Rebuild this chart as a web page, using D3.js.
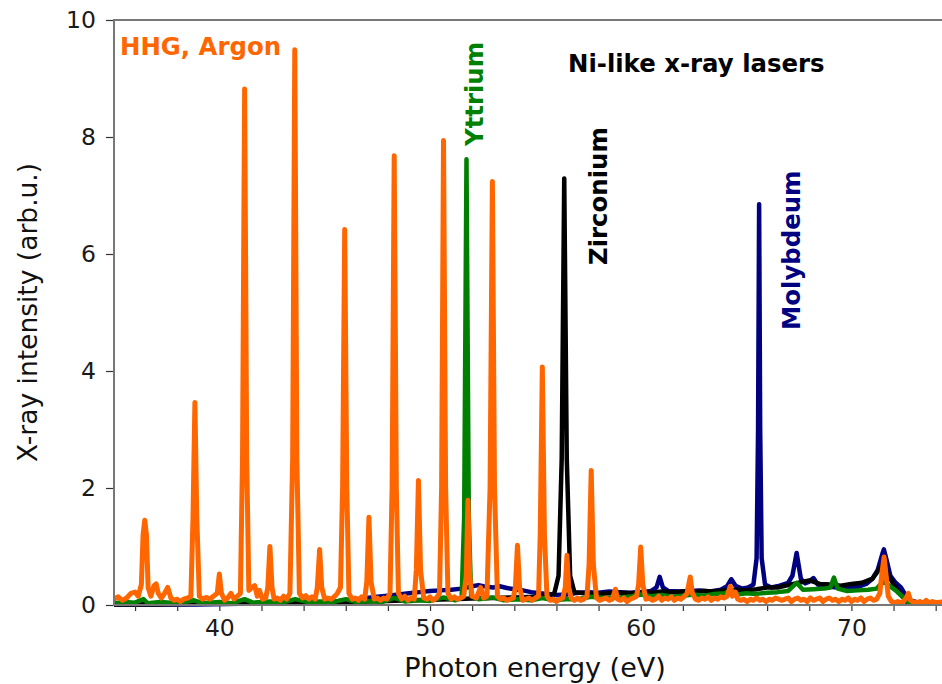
<!DOCTYPE html>
<html>
<head>
<meta charset="utf-8">
<script src="https://cdn.jsdelivr.net/npm/d3@7"></script>
<style>
  body { margin: 0; background: #fff; }
  text { font-family: "DejaVu Sans", sans-serif; }
</style>
</head>
<body>
<div id="chart"></div>
<script>
var w = 942;
var h = 684;

// tick values
var xTicks = [36, 38, 40, 42, 44, 46, 48, 50, 52, 54, 56, 58, 60, 62, 64, 66, 68, 70, 72, 74];
var xTickLabels = [40, 50, 60, 70];
var yTicks = [0, 2, 4, 6, 8, 10];

// HHG in argon, [photon energy (eV), intensity]
var hhgArgon = [
  [35.0,0.10],[35.2,0.14],[35.4,0.08],[35.6,0.12],[35.8,0.20],[36.0,0.22],[36.15,0.15],[36.3,0.35],
  [36.38,1.20],[36.46,1.45],[36.54,1.20],[36.62,0.30],[36.75,0.15],[36.9,0.33],[37.0,0.36],[37.1,0.20],[37.25,0.12],
  [37.4,0.20],[37.55,0.30],[37.7,0.12],[37.85,0.08],[38.0,0.10],[38.15,0.06],[38.3,0.10],[38.5,0.12],
  [38.65,0.15],[38.75,1.5],[38.84,3.46],[38.93,1.5],[39.05,0.15],[39.2,0.10],[39.4,0.13],[39.55,0.10],
  [39.75,0.16],[39.9,0.20],[40.0,0.53],[40.1,0.20],[40.25,0.08],[40.4,0.12],[40.55,0.20],[40.7,0.10],
  [40.85,0.15],[41.0,0.20],[41.1,2.5],[41.2,8.82],[41.3,2.5],[41.4,0.25],[41.55,0.30],[41.68,0.33],
  [41.8,0.15],[41.9,0.25],[42.05,0.10],[42.2,0.12],[42.3,0.30],[42.4,1.00],[42.5,0.30],[42.6,0.10],
  [42.75,0.12],[42.9,0.08],[43.05,0.15],[43.2,0.10],[43.35,0.20],[43.48,2.5],[43.58,9.49],[43.68,2.5],
  [43.8,0.20],[43.95,0.12],[44.1,0.16],[44.25,0.10],[44.4,0.14],[44.55,0.10],[44.65,0.30],[44.76,0.95],
  [44.86,0.30],[45.0,0.10],[45.15,0.12],[45.3,0.10],[45.45,0.14],[45.6,0.20],[45.75,0.30],[45.85,2.0],
  [45.95,6.42],[46.05,2.0],[46.15,0.20],[46.3,0.10],[46.45,0.12],[46.6,0.08],[46.75,0.14],[46.9,0.10],
  [47.0,0.40],[47.1,1.50],[47.2,0.40],[47.35,0.10],[47.5,0.12],[47.65,0.08],[47.8,0.12],[47.95,0.10],
  [48.1,0.20],[48.2,2.0],[48.3,7.68],[48.4,2.0],[48.5,0.20],[48.65,0.10],[48.8,0.15],[48.95,0.08],
  [49.1,0.12],[49.25,0.10],[49.35,0.60],[49.45,2.13],[49.55,0.60],[49.7,0.12],[49.85,0.10],[50.0,0.14],
  [50.15,0.08],[50.3,0.12],[50.45,0.20],[50.55,2.0],[50.64,7.94],[50.74,2.0],[50.85,0.20],[51.0,0.10],
  [51.15,0.14],[51.3,0.10],[51.45,0.12],[51.6,0.15],[51.72,0.50],[51.8,1.79],[51.88,0.50],[52.0,0.15],
  [52.2,0.12],[52.4,0.30],[52.55,0.12],[52.7,0.15],[52.85,2.0],[52.96,7.24],[53.06,2.0],[53.2,0.15],
  [53.35,0.10],[53.5,0.12],[53.65,0.08],[53.8,0.10],[53.95,0.12],[54.05,0.30],[54.15,1.02],[54.25,0.30],
  [54.4,0.08],[54.55,0.10],[54.7,0.12],[54.85,0.08],[55.0,0.12],[55.15,0.15],[55.23,1.2],[55.33,4.07],
  [55.43,1.2],[55.55,0.15],[55.7,0.08],[55.85,0.10],[56.0,0.06],[56.15,0.10],[56.3,0.12],[56.42,0.30],
  [56.5,0.85],[56.58,0.30],[56.7,0.12],[56.85,0.08],[57.0,0.12],[57.15,0.08],[57.3,0.10],[57.45,0.15],
  [57.55,0.70],[57.65,2.30],[57.75,0.70],[57.9,0.12],[58.05,0.08],[58.2,0.10],[58.35,0.12],[58.5,0.08],
  [58.65,0.10],[58.8,0.27],[58.9,0.10],[59.05,0.08],[59.2,0.12],[59.35,0.06],[59.5,0.10],[59.65,0.12],
  [59.8,0.15],[59.9,0.35],[60.0,0.99],[60.1,0.35],[60.25,0.10],[60.4,0.12],[60.55,0.08],[60.7,0.10],
  [60.85,0.15],[61.0,0.08],[61.15,0.12],[61.3,0.10],[61.45,0.14],[61.6,0.08],[61.75,0.12],[61.9,0.10],
  [62.05,0.14],[62.2,0.20],[62.35,0.48],[62.45,0.20],[62.6,0.10],[62.75,0.08],[62.9,0.12],[63.05,0.10],
  [63.2,0.14],[63.35,0.08],[63.5,0.12],[63.65,0.10],[63.8,0.14],[63.95,0.12],[64.1,0.15],[64.25,0.32],
  [64.35,0.15],[64.5,0.22],[64.6,0.10],[64.75,0.08],[64.9,0.10],[65.05,0.06],[65.2,0.10],[65.35,0.08],
  [65.5,0.12],[65.65,0.08],[65.8,0.10],[65.95,0.06],[66.1,0.10],[66.25,0.08],[66.4,0.12],[66.55,0.10],
  [66.7,0.08],[66.85,0.10],[67.0,0.12],[67.15,0.06],[67.3,0.10],[67.45,0.12],[67.6,0.08],[67.75,0.10],
  [67.9,0.06],[68.05,0.12],[68.2,0.08],[68.35,0.10],[68.5,0.12],[68.65,0.06],[68.8,0.10],[68.95,0.12],
  [69.1,0.08],[69.25,0.10],[69.4,0.06],[69.55,0.10],[69.7,0.08],[69.85,0.12],[70.0,0.06],[70.15,0.10],
  [70.3,0.08],[70.45,0.12],[70.6,0.06],[70.75,0.10],[70.9,0.12],[71.05,0.08],[71.2,0.10],[71.35,0.20],
  [71.45,0.55],[71.55,0.82],[71.65,0.50],[71.75,0.15],[71.9,0.06],[72.05,0.04],[72.2,0.06],[72.4,0.03],
  [72.6,0.12],[72.7,0.20],[72.8,0.08],[72.95,0.05],[73.1,0.04],[73.25,0.06],[73.4,0.03],[73.55,0.08],
  [73.7,0.03],[73.85,0.06],[74.0,0.04],[74.3,0.05]
];

// Ni-like yttrium laser
var yttrium = [
  [35.0,0.03],[35.5,0.05],[36.0,0.04],[36.4,0.10],[36.6,0.03],[37.2,0.05],[38.0,0.03],[38.8,0.08],
  [39.2,0.03],[40.0,0.05],[40.6,0.03],[41.2,0.10],[41.6,0.04],[42.4,0.06],[43.0,0.04],[43.6,0.10],
  [44.2,0.05],[44.8,0.06],[45.4,0.05],[46.0,0.10],[46.5,0.05],[47.1,0.07],[47.7,0.05],[48.3,0.12],
  [48.8,0.06],[49.45,0.08],[50.0,0.07],[50.64,0.13],[51.2,0.08],[51.5,0.12],[51.62,1.5],[51.73,7.62],
  [51.84,1.5],[51.95,0.15],[52.3,0.10],[52.96,0.13],[53.5,0.08],[54.15,0.10],[54.8,0.08],[55.33,0.12],
  [55.9,0.08],[56.4,0.10],[57.0,0.10],[57.65,0.14],[58.3,0.12],[59.0,0.13],[59.6,0.15],[60.0,0.18],
  [60.5,0.15],[61.0,0.17],[61.5,0.14],[62.0,0.16],[62.5,0.18],[63.0,0.16],[63.5,0.19],[64.0,0.20],
  [64.3,0.26],[64.6,0.18],[65.0,0.20],[65.5,0.19],[66.0,0.21],[66.5,0.22],[67.0,0.24],[67.4,0.38],
  [67.7,0.26],[68.2,0.27],[68.7,0.28],[69.0,0.30],[69.17,0.47],[69.35,0.28],[69.8,0.24],[70.3,0.25],
  [70.8,0.26],[71.2,0.28],[71.5,0.40],[71.8,0.33],[72.1,0.25],[72.4,0.15],[72.7,0.05],[73.0,0.02],
  [74.3,0.02]
];

// Ni-like zirconium laser
var zirconium = [
  [35.0,0.01],[37.0,0.01],[39.0,0.02],[41.0,0.02],[43.0,0.03],[45.0,0.04],[46.0,0.05],[47.0,0.06],
  [48.0,0.07],[49.0,0.08],[50.0,0.09],[51.0,0.10],[52.0,0.11],[53.0,0.12],[54.0,0.13],[55.0,0.14],
  [55.6,0.15],[55.9,0.20],[56.1,0.50],[56.25,2.5],[56.37,7.29],[56.49,2.5],[56.65,0.50],[56.85,0.22],
  [57.3,0.20],[58.0,0.19],[58.5,0.20],[59.0,0.21],[59.5,0.20],[60.0,0.22],[60.5,0.21],[61.0,0.23],
  [61.5,0.22],[62.0,0.23],[62.5,0.22],[63.0,0.24],[63.5,0.23],[64.0,0.25],[64.5,0.26],[65.0,0.25],
  [65.5,0.27],[66.0,0.30],[66.5,0.30],[67.0,0.34],[67.5,0.38],[68.0,0.42],[68.5,0.36],[69.0,0.35],
  [69.5,0.33],[70.0,0.36],[70.5,0.38],[71.0,0.45],[71.3,0.60],[71.5,0.70],[71.7,0.55],[72.0,0.35],
  [72.3,0.20],[72.6,0.06],[73.0,0.02],[74.3,0.02]
];

// Ni-like molybdenum laser
var molybdenum = [
  [35.0,0.01],[37.0,0.01],[39.0,0.01],[41.0,0.02],[43.0,0.02],[44.0,0.03],[45.0,0.05],[45.5,0.06],
  [46.0,0.08],[46.5,0.10],[47.0,0.12],[47.5,0.14],[48.0,0.16],[48.5,0.18],[49.0,0.20],[49.5,0.22],
  [50.0,0.24],[50.5,0.25],[51.0,0.26],[51.5,0.28],[52.0,0.32],[52.3,0.34],[52.7,0.31],[53.0,0.30],
  [53.3,0.32],[53.65,0.29],[54.0,0.27],[54.4,0.25],[54.8,0.22],[55.2,0.20],[55.6,0.19],[56.0,0.17],
  [56.5,0.18],[57.0,0.21],[57.5,0.22],[58.0,0.21],[58.5,0.23],[59.0,0.22],[59.5,0.21],[60.0,0.22],
  [60.5,0.24],[60.75,0.30],[60.9,0.48],[61.05,0.30],[61.3,0.24],[61.8,0.23],[62.3,0.24],[62.8,0.25],
  [63.3,0.23],[63.8,0.26],[64.1,0.32],[64.3,0.44],[64.5,0.33],[64.8,0.28],[65.1,0.30],[65.35,0.35],
  [65.5,0.80],[65.57,3.0],[65.62,6.85],[65.67,3.0],[65.74,0.80],[65.9,0.35],[66.2,0.30],[66.6,0.33],
  [67.0,0.38],[67.2,0.50],[67.4,0.89],[67.6,0.45],[67.8,0.37],[68.0,0.40],[68.2,0.46],[68.4,0.35],
  [68.8,0.32],[69.3,0.30],[69.8,0.30],[70.3,0.31],[70.7,0.36],[71.0,0.45],[71.25,0.60],[71.45,0.85],
  [71.54,0.95],[71.65,0.80],[71.85,0.50],[72.1,0.38],[72.35,0.30],[72.6,0.15],[72.8,0.08],[73.2,0.04],
  [74.3,0.04]
];

var svg = d3.select("#chart")
    .append("svg")
    .attr("width", w)
    .attr("height", h);

svg.append("rect").attr("width", w).attr("height", h).attr("fill", "#fff");

var margin = {top: 20, right: 0, bottom: 79, left: 114},
    width = w - margin.left - margin.right,
    height = h - margin.top - margin.bottom;

var x = d3.scaleLinear().domain([35, 74.3]).range([margin.left, w - margin.right]);
var y = d3.scaleLinear().domain([0, 10]).range([h - margin.bottom, margin.top]);

svg.append("clipPath").attr("id", "plotclip")
  .append("rect")
    .attr("x", margin.left)
    .attr("y", 0)
    .attr("width", width)
    .attr("height", h - margin.bottom + 4);

var line = d3.line()
  .x(function(d) { return x(d[0]); })
  .y(function(d) { return y(d[1]); });

var series = [
  {data: molybdenum, color: "#000080", sw: 4.5},
  {data: zirconium, color: "#000000", sw: 4.5},
  {data: yttrium, color: "#008000", sw: 4.5},
  {data: hhgArgon, color: "#ff6600", sw: 5}
];

var lines = svg.append("g").attr("clip-path", "url(#plotclip)");
series.forEach(function(s) {
  lines.append("path")
      .datum(s.data)
      .attr("fill", "none")
      .attr("stroke", s.color)
      .attr("stroke-width", s.sw)
      .attr("stroke-linejoin", "round")
      .attr("stroke-linecap", "round")
      .attr("d", line);
});

// axes
var xAxis = svg.append("g")
    .attr("transform", "translate(0," + (h - margin.bottom) + ")")
    .call(d3.axisBottom(x)
      .tickValues(xTicks)
      .tickSize(6)
      .tickPadding(8)
      .tickFormat(function(d) { return xTickLabels.indexOf(d) >= 0 ? d : ""; }));

var yAxis = svg.append("g")
    .attr("transform", "translate(" + margin.left + ",0)")
    .call(d3.axisLeft(y).tickValues(yTicks).tickSize(8).tickPadding(10));

[xAxis, yAxis].forEach(function(a) {
  a.select(".domain").remove();
  a.selectAll(".tick line").attr("stroke", "#333").attr("stroke-width", 1.2);
  a.selectAll(".tick text")
    .attr("fill", "#1a1a1a")
    .style("font-family", "DejaVu Sans")
    .style("font-size", "23.5px");
});

// frame lines (left, bottom, top)
svg.append("path")
    .attr("d", "M" + (w - margin.right) + "," + margin.top + "H" + margin.left +
               "V" + (h - margin.bottom) + "H" + (w - margin.right))
    .attr("fill", "none")
    .attr("stroke", "#777")
    .attr("stroke-width", 2);

// axis titles
svg.append("text")
    .attr("x", 535)
    .attr("y", 677)
    .attr("text-anchor", "middle")
    .attr("fill", "#111")
    .style("font-size", "27px")
    .text("Photon energy (eV)");

svg.append("text")
    .attr("transform", "translate(37," + ((margin.top + h - margin.bottom) / 2) + ") rotate(-90)")
    .attr("text-anchor", "middle")
    .attr("fill", "#111")
    .style("font-size", "26.5px")
    .text("X-ray intensity (arb.u.)");

// annotations
svg.append("text")
    .attr("x", 120).attr("y", 55)
    .attr("fill", "#ff6600")
    .style("font-size", "24.4px").style("font-weight", "bold")
    .text("HHG, Argon");

svg.append("text")
    .attr("x", 568).attr("y", 72)
    .attr("fill", "#000")
    .style("font-size", "24.4px").style("font-weight", "bold")
    .text("Ni-like x-ray lasers");

var vlabels = [
  {text: "Yttrium", x: 483, y: 146, color: "#008000"},
  {text: "Zirconium", x: 607, y: 265, color: "#000000"},
  {text: "Molybdeum", x: 800, y: 330, color: "#000080"}
];
vlabels.forEach(function(l) {
  svg.append("text")
      .attr("transform", "translate(" + l.x + "," + l.y + ") rotate(-90)")
      .attr("fill", l.color)
      .style("font-size", "24.4px").style("font-weight", "bold")
      .text(l.text);
});
</script>
</body>
</html>
